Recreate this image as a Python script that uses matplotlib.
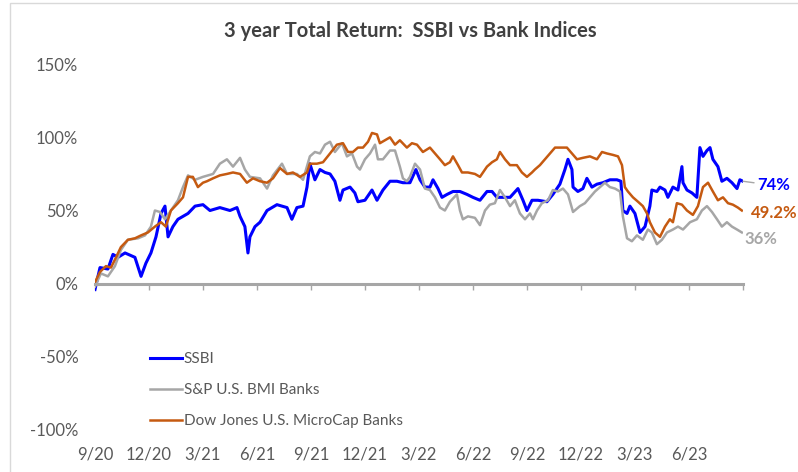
import matplotlib.pyplot as plt
from matplotlib.patches import Rectangle

plt.rcParams['font.family'] = ['Lato', 'DejaVu Sans']

# ---------------------------------------------
# data: months since 9/20, total return in %
# ---------------------------------------------
ssbi_m = [0.00, 0.28, 0.72, 1.00, 1.28, 1.67, 2.22, 2.56, 2.83, 3.11, 3.39, 3.67, 3.89, 4.06,
          4.33, 4.61, 4.89, 5.17, 5.56, 6.00, 6.39, 6.94, 7.50, 7.89, 8.06, 8.33, 8.50, 8.61,
          8.89, 9.17, 9.56, 10.11, 10.67, 10.94, 11.22, 11.56, 11.78, 11.94, 12.22, 12.50,
          12.78, 13.06, 13.33, 13.61, 13.78, 14.17, 14.44, 14.61, 15.00, 15.39, 15.67, 16.00,
          16.39, 16.78, 17.11, 17.50, 17.83, 18.06, 18.33, 18.61, 18.78, 19.06, 19.28, 19.56,
          19.89, 20.28, 20.67, 21.00, 21.39, 21.78, 22.06, 22.33, 22.67, 23.06, 23.50, 23.78,
          24.00, 24.28, 24.61, 25.11, 25.44, 25.83, 26.11, 26.28, 26.50, 26.56, 26.83, 27.11,
          27.33, 27.61, 27.89, 28.22, 28.61, 29.00, 29.22, 29.33, 29.56, 29.72, 30.00, 30.28,
          30.56, 30.83, 30.94, 31.22, 31.39, 31.67, 31.83, 32.11, 32.39, 32.61, 32.67, 32.89,
          33.17, 33.44, 33.61, 33.78, 34.00, 34.17, 34.33, 34.61, 34.83, 35.11, 35.39, 35.67,
          35.83, 36.00]
ssbi_v = [-4, 11, 10, 20, 18, 21, 18, 5, 14, 21, 32, 48, 53, 32,
          39, 44, 46, 48, 53, 54, 50, 52, 50, 52, 46, 39, 21, 32,
          39, 42, 50, 54, 52, 44, 52, 53, 66, 82, 71, 78,
          76, 75, 70, 57, 64, 66, 62, 56, 57, 64, 57, 64,
          70, 70, 69, 69, 78, 71, 66, 66, 71, 65, 59, 61,
          63, 63, 61, 59, 57, 63, 63, 59, 59, 59, 65, 57,
          50, 57, 57, 56, 61, 68, 78, 85, 78, 66, 63, 65,
          72, 66, 68, 69, 71, 71, 70, 50, 48, 53, 48, 35,
          39, 53, 64, 63, 66, 64, 59, 66, 64, 80, 69, 64,
          62, 59, 93, 87, 91, 93, 85, 80, 70, 72, 69, 65,
          71, 70]

sp_m = [0.00, 0.33, 0.72, 1.11, 1.44, 1.83, 2.39, 2.78, 3.11, 3.33, 3.61, 3.89, 4.22, 4.61,
        4.89, 5.17, 5.56, 6.00, 6.56, 6.94, 7.33, 7.67, 8.06, 8.33, 8.61, 9.17, 9.56, 9.89,
        10.39, 10.67, 11.22, 11.56, 11.94, 12.22, 12.50, 12.78, 13.06, 13.33, 13.72, 14.00,
        14.28, 14.56, 14.72, 15.00, 15.28, 15.56, 15.72, 16.00, 16.39, 16.67, 16.94, 17.11,
        17.33, 17.50, 17.78, 18.06, 18.33, 18.61, 18.89, 19.17, 19.44, 19.72, 20.11, 20.28,
        20.44, 20.72, 21.11, 21.39, 21.67, 21.94, 22.22, 22.50, 22.78, 23.06, 23.33, 23.61,
        23.89, 24.17, 24.33, 24.56, 24.83, 25.17, 25.44, 25.72, 26.00, 26.28, 26.56, 26.94,
        27.22, 27.50, 27.78, 28.06, 28.33, 28.61, 28.89, 29.17, 29.33, 29.56, 29.83, 30.11,
        30.44, 30.72, 30.94, 31.22, 31.50, 31.78, 32.11, 32.39, 32.67, 33.06, 33.44, 33.72,
        34.00, 34.28, 34.56, 34.83, 35.11, 35.39, 35.67, 35.94]
sp_v = [-2, 7, 5, 12, 23, 30, 31, 33, 39, 50, 49, 44, 50, 57,
        66, 74, 71, 73, 75, 82, 85, 80, 86, 78, 73, 72, 65, 74,
        82, 75, 75, 71, 87, 90, 89, 95, 97, 90, 96, 87,
        89, 80, 78, 85, 89, 95, 85, 85, 91, 91, 80, 72,
        70, 73, 82, 78, 65, 64, 59, 52, 50, 56, 61, 50,
        44, 46, 45, 40, 50, 54, 55, 64, 59, 53, 57, 48,
        44, 48, 44, 50, 55, 57, 64, 63, 65, 61, 49, 53,
        55, 59, 63, 66, 69, 66, 65, 63, 46, 31, 29, 33,
        30, 37, 35, 27, 30, 35, 37, 39, 37, 42, 44, 50,
        53, 49, 44, 39, 42, 39, 37, 35]

dj_m = [0.00, 0.28, 0.61, 0.89, 1.17, 1.44, 1.83, 2.22, 2.56, 2.94, 3.33, 3.67, 3.94, 4.22,
        4.61, 4.89, 5.17, 5.44, 5.72, 6.00, 6.22, 6.56, 6.94, 7.33, 7.67, 8.06, 8.44, 8.78,
        9.17, 9.56, 9.89, 10.28, 10.67, 11.00, 11.39, 11.78, 11.94, 12.33, 12.67, 13.06,
        13.44, 13.78, 14.06, 14.33, 14.61, 14.89, 15.17, 15.39, 15.67, 15.83, 16.11, 16.39,
        16.67, 16.94, 17.33, 17.61, 17.89, 18.22, 18.61, 18.89, 19.17, 19.44, 19.72, 19.89,
        20.17, 20.39, 20.72, 21.11, 21.39, 21.78, 22.06, 22.33, 22.50, 22.78, 23.06, 23.44,
        23.72, 24.00, 24.28, 24.44, 24.72, 25.00, 25.28, 25.56, 25.94, 26.22, 26.50, 26.78,
        27.11, 27.50, 27.89, 28.17, 28.44, 28.78, 29.06, 29.28, 29.44, 29.61, 29.89, 30.17,
        30.44, 30.67, 30.83, 31.11, 31.39, 31.67, 31.94, 32.11, 32.33, 32.61, 32.89, 33.22,
        33.50, 33.78, 34.06, 34.33, 34.61, 34.89, 35.17, 35.44, 35.72, 35.94]
dj_v = [1, 8, 12, 11, 18, 25, 30, 31, 33, 35, 39, 42, 39, 50,
        55, 59, 73, 73, 66, 69, 70, 72, 74, 75, 76, 75, 69, 72,
        70, 69, 72, 79, 75, 76, 73, 76, 82, 82, 83, 89,
        95, 96, 90, 90, 93, 93, 97, 103, 102, 96, 98, 100,
        95, 98, 93, 96, 95, 90, 93, 89, 85, 81, 83, 87,
        81, 76, 76, 75, 73, 80, 83, 85, 90, 85, 81, 81,
        76, 73, 76, 78, 81, 85, 89, 93, 93, 93, 89, 85,
        86, 87, 85, 90, 89, 88, 87, 81, 66, 63, 59, 56,
        53, 48, 42, 35, 32, 39, 44, 42, 55, 54, 50, 47,
        53, 66, 69, 63, 57, 59, 55, 54, 52, 50]

quarter_labels = ['9/20', '12/20', '3/21', '6/21', '9/21', '12/21',
                  '3/22', '6/22', '9/22', '12/22', '3/23', '6/23']

end_labels = ['74%', '36%', '49.2%']

BLUE = '#0000FF'
GRAY = '#A6A6A6'
ORANGE = '#C55A11'
TXT = '#595959'

# ---------------------------------------------
# plot
# ---------------------------------------------
fig = plt.figure(figsize=(7.98, 4.72), dpi=100)
ax = fig.add_axes([0.119, 0.089, 0.812, 0.775])

ax.plot(ssbi_m, ssbi_v, color=BLUE, lw=2.2, label='SSBI')
ax.plot(sp_m, sp_v, color=GRAY, lw=1.8, label='S&P U.S. BMI Banks')
ax.plot(dj_m, dj_v, color=ORANGE, lw=1.8, label='Dow Jones U.S. MicroCap Banks')

ax.set_xlim(0, 36)
ax.set_ylim(-100, 150)
yt = list(range(-100, 151, 50))
ax.set_yticks(yt)
ax.set_yticklabels([f'{t}%' for t in yt])
ax.tick_params(axis='y', length=0, labelsize=12, labelcolor=TXT, pad=12)

for s in ['top', 'right', 'left']:
    ax.spines[s].set_visible(False)
ax.spines['bottom'].set_position(('data', 0))
ax.spines['bottom'].set_color(GRAY)
ax.spines['bottom'].set_linewidth(2.2)
ax.set_xticks(range(0, 37, 3))
ax.tick_params(axis='x', length=4, width=1, color=GRAY, labelbottom=False)

sec = ax.secondary_xaxis(0)
sec.set_xticks(range(0, 34, 3), labels=quarter_labels)
sec.tick_params(length=0, pad=12, labelsize=12, labelcolor=TXT)
sec.spines['bottom'].set_visible(False)

# end-of-line value labels
ax.annotate(end_labels[0], xy=(ssbi_m[-1], ssbi_v[-1]), xytext=(10, -3),
            textcoords='offset points', color=BLUE, fontweight='bold',
            fontsize=12, va='center', ha='left',
            arrowprops=dict(arrowstyle='-', color=GRAY, lw=1, shrinkA=0, shrinkB=0))
ax.annotate(end_labels[1], xy=(sp_m[-1], sp_v[-1]), xytext=(1.5, -5),
            textcoords='offset points', color=GRAY, fontweight='bold',
            fontsize=12, va='center', ha='left')
ax.annotate(end_labels[2], xy=(dj_m[-1], dj_v[-1]), xytext=(6.5, -1.5),
            textcoords='offset points', color=ORANGE, fontweight='bold',
            fontsize=12, va='center', ha='left', annotation_clip=False)

ax.legend(loc='upper left', bbox_to_anchor=(0.064, 0.25), frameon=False,
          fontsize=11, labelcolor=TXT, handlelength=2.1, handletextpad=0.1,
          labelspacing=1.1)

fig.text(0.514, 0.934, '3 year Total Return:  SSBI vs Bank Indices',
         ha='center', va='center', fontsize=14.5, fontweight='bold', color='#404040')

fig.add_artist(Rectangle((0.0125, -0.1), 1.1, 1.0936, transform=fig.transFigure,
                         fill=False, edgecolor='#d9d9d9', lw=1))

fig.savefig('out.png', dpi=100)
